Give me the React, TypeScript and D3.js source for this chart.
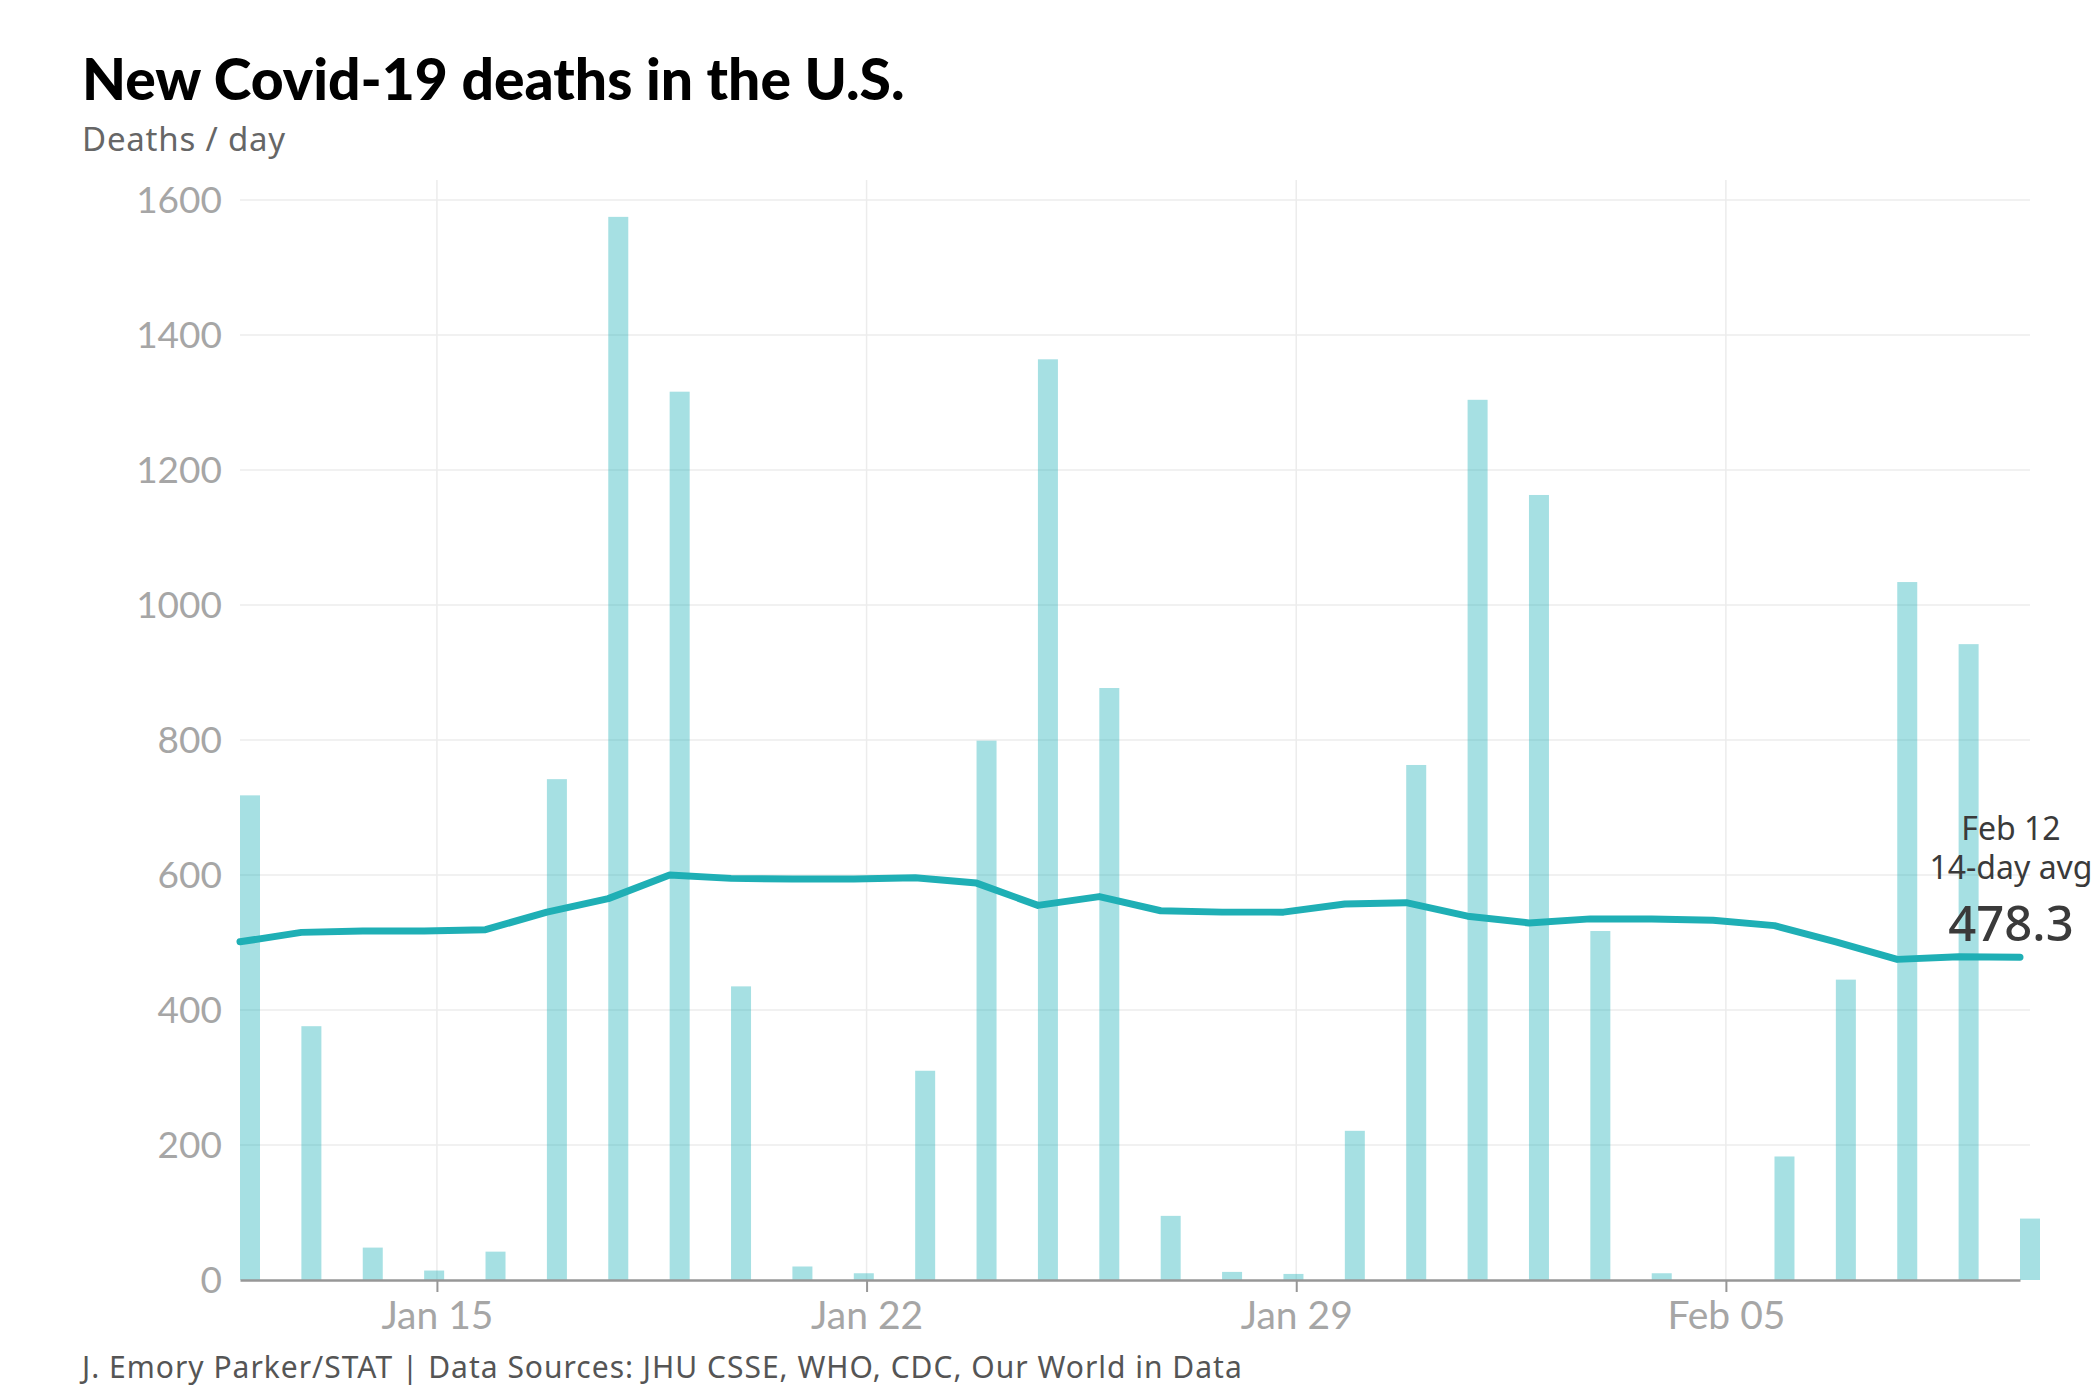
import { axisBottom, line, scaleLinear, scaleUtc, select, utcHour, utcParse, utcFormat } from 'd3';
import React, { useEffect, useRef } from 'react';

const WIDTH = 2100;
const HEIGHT = 1400;
const PLOT_LEFT = 240;
const PLOT_RIGHT = 2020;
const GRID_RIGHT = 2030;
const PLOT_TOP = 180;
const ZERO_Y = 1280;
const TOP_Y = 200;
const BAR_WIDTH = 20;
// data is stamped at UTC midnight, ticks at local (EST) midnight
const OFFSET_HOURS = -5;
const FONT = "Lato, 'Noto Sans', sans-serif";
const FONT_WIDE = "'Noto Sans', Lato, sans-serif";

const dates = [
  '2023-01-12', '2023-01-13', '2023-01-14', '2023-01-15', '2023-01-16',
  '2023-01-17', '2023-01-18', '2023-01-19', '2023-01-20', '2023-01-21',
  '2023-01-22', '2023-01-23', '2023-01-24', '2023-01-25', '2023-01-26',
  '2023-01-27', '2023-01-28', '2023-01-29', '2023-01-30', '2023-01-31',
  '2023-02-01', '2023-02-02', '2023-02-03', '2023-02-04', '2023-02-05',
  '2023-02-06', '2023-02-07', '2023-02-08', '2023-02-09', '2023-02-10',
];

const dailyDeaths = [
  718, 376, 48, 14, 42, 742, 1575, 1316, 435, 20,
  10, 310, 799, 1364, 877, 95, 12, 9, 221, 763,
  1304, 1163, 517, 10, 0, 183, 445, 1034, 942, 91,
];

const avg14 = [
  501, 515, 517, 517, 519, 545, 565, 600, 595, 594,
  594, 596, 588, 555, 568, 547, 545, 545, 557, 559,
  539, 529, 535, 535, 533, 525, 501, 475, 479, 478.3,
];

const tickDates = ['2023-01-15', '2023-01-22', '2023-01-29', '2023-02-05'];
const yTicks = [200, 400, 600, 800, 1000, 1200, 1400, 1600];

const title = 'New Covid-19 deaths in the U.S.';
const subtitle = 'Deaths / day';
const source = 'J. Emory Parker/STAT | Data Sources: JHU CSSE, WHO, CDC, Our World in Data';
const annotationDate = 'Feb 12';
const annotationLabel = '14-day avg';

const Chart = (): JSX.Element => {
  const ref = useRef<SVGSVGElement>(null);

  useEffect(() => {
    if (ref.current === null) return;
    ref.current.replaceChildren();

    const parse = utcParse('%Y-%m-%d');
    const rows = dates.map((d, i) => ({
      date: utcHour.offset(parse(d) as Date, OFFSET_HOURS),
      deaths: dailyDeaths[i],
      avg: avg14[i],
    }));
    const ticks = tickDates.map((d) => parse(d) as Date);

    const x = scaleUtc()
      .domain([rows[0].date, rows[rows.length - 1].date])
      .range([PLOT_LEFT, PLOT_RIGHT]);
    const y = scaleLinear().domain([0, 1600]).range([ZERO_Y, TOP_Y]);

    const svg = select(ref.current)
      .attr('width', WIDTH)
      .attr('height', HEIGHT)
      .attr('viewBox', [0, 0, WIDTH, HEIGHT])
      .style('font-family', FONT);

    svg.append('rect').attr('width', WIDTH).attr('height', HEIGHT).attr('fill', '#fff');

    // Horizontal grid
    svg
      .append('g')
      .selectAll()
      .data(yTicks)
      .join('line')
      .attr('x1', PLOT_LEFT)
      .attr('x2', GRID_RIGHT)
      .attr('y1', (d) => y(d))
      .attr('y2', (d) => y(d))
      .attr('stroke', '#ececec')
      .attr('stroke-width', 1.5);

    // Vertical grid at the date ticks
    svg
      .append('g')
      .selectAll()
      .data(ticks)
      .join('line')
      .attr('x1', (d) => x(d))
      .attr('x2', (d) => x(d))
      .attr('y1', PLOT_TOP)
      .attr('y2', ZERO_Y)
      .attr('stroke', '#ececec')
      .attr('stroke-width', 1.5);

    // Y labels
    svg
      .append('g')
      .attr('fill', '#a6a6a6')
      .attr('font-size', 37)
      .attr('text-anchor', 'end')
      .selectAll()
      .data([0, ...yTicks])
      .join('text')
      .attr('x', 222)
      .attr('y', (d) => y(d))
      .attr('dy', '0.36em')
      .text((d) => d);

    // Bars
    svg
      .append('g')
      .attr('fill', '#21b1b8')
      .attr('fill-opacity', 0.4)
      .selectAll()
      .data(rows.filter((d) => d.deaths > 0))
      .join('rect')
      .attr('x', (d) => x(d.date))
      .attr('y', (d) => y(d.deaths))
      .attr('width', BAR_WIDTH)
      .attr('height', (d) => y(0) - y(d.deaths));

    // X axis
    svg
      .append('g')
      .attr('transform', `translate(0, ${ZERO_Y})`)
      .call(
        axisBottom(x)
          .tickValues(ticks)
          .tickFormat((d) => utcFormat('%b %d')(d as Date))
          .tickSize(12)
          .tickPadding(10)
          .tickSizeOuter(0),
      )
      .call((g) => g.select('.domain').attr('stroke', '#979797').attr('stroke-width', 2.5))
      .call((g) => g.selectAll('.tick line').attr('stroke', '#979797').attr('stroke-width', 2))
      .call((g) =>
        g
          .selectAll('.tick text')
          .attr('fill', '#a6a6a6')
          .attr('font-size', 39)
          .attr('font-family', FONT)
          .attr('dy', '0.7em'),
      );

    // 14-day average line
    svg
      .append('path')
      .datum(rows)
      .attr('fill', 'none')
      .attr('stroke', '#1fafb5')
      .attr('stroke-width', 7)
      .attr('stroke-linecap', 'round')
      .attr('stroke-linejoin', 'round')
      .attr(
        'd',
        line<(typeof rows)[number]>()
          .x((d) => x(d.date))
          .y((d) => y(d.avg)),
      );

    // End annotation
    const last = rows[rows.length - 1];
    const ann = svg
      .append('g')
      .attr('fill', '#3a3a3a')
      .attr('text-anchor', 'middle')
      .attr('font-family', FONT_WIDE);
    ann.append('text').attr('x', 2011).attr('y', 840).attr('font-size', 32).text(annotationDate);
    ann.append('text').attr('x', 2011).attr('y', 879).attr('font-size', 32).text(annotationLabel);
    ann
      .append('text')
      .attr('x', 2011)
      .attr('y', 941)
      .attr('font-size', 49)
      .attr('font-weight', 500)
      .text(last.avg.toFixed(1));

    // Titles
    svg
      .append('text')
      .attr('x', 82)
      .attr('y', 100)
      .attr('font-size', 57)
      .attr('font-weight', 900)
      .attr('fill', '#000')
      .text(title);
    svg
      .append('text')
      .attr('x', 82)
      .attr('y', 151)
      .attr('font-size', 33)
      .attr('letter-spacing', 0.8)
      .attr('font-family', FONT_WIDE)
      .attr('fill', '#666')
      .text(subtitle);
    svg
      .append('text')
      .attr('x', 82)
      .attr('y', 1378)
      .attr('font-size', 30)
      .attr('letter-spacing', 1)
      .attr('font-family', FONT_WIDE)
      .attr('fill', '#555')
      .text(source);
  }, [ref]);

  return <svg ref={ref} style={{ position: 'absolute', left: 0, top: 0, display: 'block' }} />;
};

export default function App(): JSX.Element {
  return <Chart />;
}
